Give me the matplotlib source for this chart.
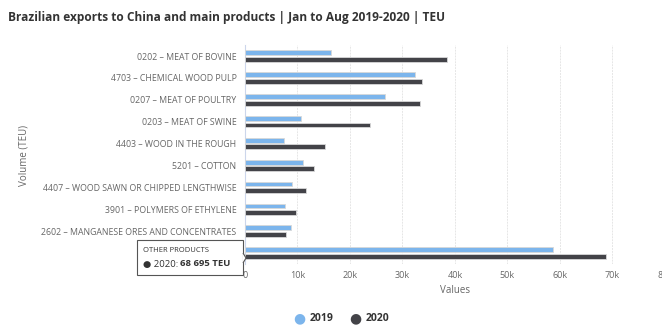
import numpy as np
import matplotlib.pyplot as plt

plt.rcParams['font.family'] = ['Open Sans', 'DejaVu Sans']

products = ['0202 – MEAT OF BOVINE', '4703 – CHEMICAL WOOD PULP', '0207 – MEAT OF POULTRY',
            '0203 – MEAT OF SWINE', '4403 – WOOD IN THE ROUGH', '5201 – COTTON',
            '4407 – WOOD SAWN OR CHIPPED LENGTHWISE', '3901 – POLYMERS OF ETHYLENE',
            '2602 – MANGANESE ORES AND CONCENTRATES', 'OTHER PRODUCTS']
teu_2019 = [16400, 32300, 26700, 10700, 7400, 11000, 9000, 7600, 8800, 58600]
teu_2020 = [38500, 33700, 33400, 23900, 15200, 13200, 11700, 9800, 7900, 68695]
xticks = [0, 10000, 20000, 30000, 40000, 50000, 60000, 70000, 80000]
xtick_labels = ['0', '10k', '20k', '30k', '40k', '50k', '60k', '70k', '80k']

c19 = '#7cb5ec'
c20 = '#434348'

fig = plt.figure(figsize=(6.62, 3.27), dpi=100)
ax = fig.add_axes([0.370, 0.193, 0.6345, 0.669])

y = np.arange(len(products))
ax.barh(y - 0.15, teu_2019, height=0.22, color=c19, edgecolor='#d8d8d8', linewidth=0.6, zorder=3)
ax.barh(y + 0.15, teu_2020, height=0.22, color=c20, edgecolor='#d8d8d8', linewidth=0.6, zorder=3)

ax.set_ylim(len(products) - 0.5, -0.5)
ax.set_xlim(0, 80000)
ax.set_yticks(y)
ax.set_yticklabels(products, fontsize=6.3, color='#666666')
ax.set_xticks(xticks)
ax.set_xticklabels(xtick_labels, fontsize=6.5, color='#666666')
ax.tick_params(length=0, pad=6)
ax.tick_params(axis='x', pad=5)
ax.grid(axis='x', color='#e6e6e6', linewidth=0.7, linestyle=(0, (2, 1)), zorder=0)
for s in ['top', 'right', 'bottom']:
    ax.spines[s].set_visible(False)
ax.spines['left'].set_color('#ccd6eb')

ax.set_xlabel('Values', fontsize=7, color='#666666', labelpad=4)
fig.text(0.036, 0.525, 'Volume (TEU)', rotation=90, fontsize=7, color='#666666', ha='center', va='center')

fig.text(0.012, 0.945, 'Brazilian exports to China and main products | Jan to Aug 2019-2020 | TEU',
         fontsize=8.6, fontweight='bold', color='#333333', ha='left', va='center')

# tooltip over the last category
fig.patches.append(plt.Rectangle((137 / 662, 1 - 275 / 327), 106 / 662, 35 / 327,
                                 transform=fig.transFigure, facecolor='white',
                                 edgecolor='#555555', linewidth=0.8, zorder=10))
fig.patches.append(plt.Polygon([(243 / 662, 1 - 253 / 327), (246 / 662, 1 - 258 / 327),
                                (243 / 662, 1 - 263 / 327)], closed=False,
                               transform=fig.transFigure, facecolor='white',
                               edgecolor='#555555', linewidth=0.8, zorder=11))
fig.text(143 / 662, 1 - 251 / 327, 'OTHER PRODUCTS', fontsize=5.5, color='#333333', va='center', zorder=12)
fig.text(143 / 662, 1 - 264 / 327, '● 2020: ', fontsize=6.8, color='#333333', va='center', zorder=12)
fig.text(180 / 662, 1 - 264 / 327, '68 695 TEU', fontsize=6.8, fontweight='bold', color='#333333',
         va='center', zorder=12)

# legend
fig.text(0.452, 0.003, '●', fontsize=10, color=c19, ha='center', va='bottom')
fig.text(0.468, 0.008, '2019', fontsize=7.5, fontweight='bold', color='#333333', ha='left', va='bottom')
fig.text(0.537, 0.003, '●', fontsize=10, color=c20, ha='center', va='bottom')
fig.text(0.552, 0.008, '2020', fontsize=7.5, fontweight='bold', color='#333333', ha='left', va='bottom')

plt.savefig('out.png', dpi=100)
